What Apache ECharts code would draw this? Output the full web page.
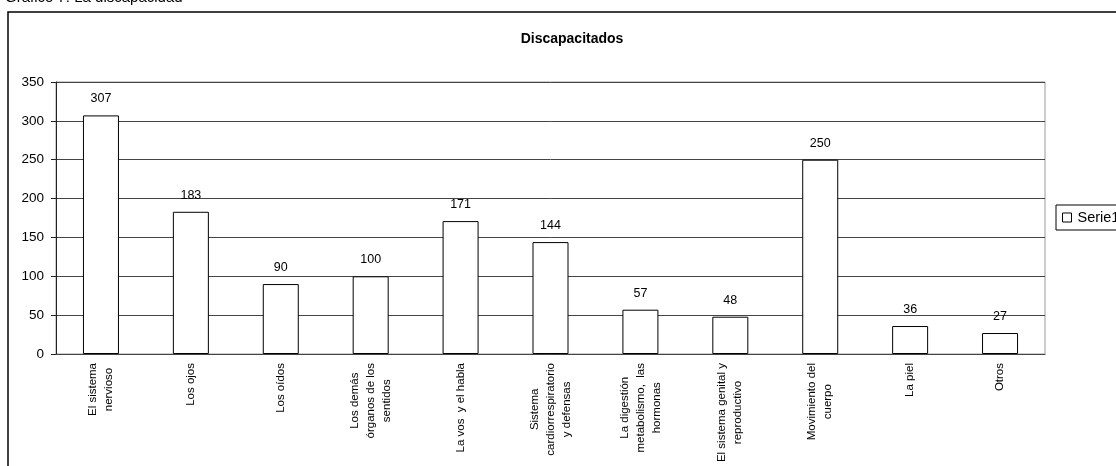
<!DOCTYPE html>
<html>
<head>
<meta charset="utf-8">
<script src="https://cdn.jsdelivr.net/npm/echarts@6/dist/echarts.min.js"></script>
<style>
	body { margin: 0; background: #fff; }
	#discap_chart { width: 1116px; height: 466px; }
</style>
</head>
<body>
<div id="discap_chart"></div>
<script>
// categories (rotated labels, \n = line break)
var categories = [
	'El sistema\nnervioso',
	'Los ojos',
	'Los oídos',
	'Los demás\nórganos de los\nsentidos',
	'La vos  y el habla',
	'Sistema\ncardiorrespiratorio\ny defensas',
	'La digestión\nmetabolismo,  las\nhormonas',
	'El sistema genital y\nreproductivo',
	'Movimiento del\ncuerpo',
	'La piel',
	'Otros'
];
var serie1 = [307, 183, 90, 100, 171, 144, 57, 48, 250, 36, 27];
var yTicks = [0, 50, 100, 150, 200, 250, 300, 350];

var myDiscapChart = echarts.init(document.getElementById('discap_chart'));

showDiscapChart()

function showDiscapChart(){
	var option = getDiscapOption()
	myDiscapChart.setOption(option);
}

function getDiscapOption(){
	var font = 'Arial, "Liberation Sans", sans-serif';
	var option = {
		backgroundColor: '#fff',
		animation: false,
		title: [
			{
				text: 'Gráfico 7: La discapacidad',
				left: 0,
				top: -15,
				textStyle: {
					fontFamily: font,
					fontSize: 15,
					fontWeight: 'normal',
					color: '#000'
				}
			},
			{
				text: 'Discapacitados',
				left: 567,
				top: 27,
				textAlign: 'center',
				textStyle: {
					fontFamily: font,
					fontSize: 14,
					fontWeight: 'bold',
					color: '#000'
				}
			}
		],
		graphic: [
			{
				type: 'rect',
				shape: { x: 8, y: 12, width: 1200, height: 600 },
				style: { fill: 'none', stroke: '#000', lineWidth: 1.5 },
				silent: true
			}
		],
		legend: {
			left: 1056,
			top: 205,
			orient: 'vertical',
			data: ['Serie1'],
			icon: 'rect',
			itemWidth: 9,
			itemHeight: 9,
			itemGap: 0,
			padding: [5, 8, 5, 6],
			borderColor: '#000',
			borderWidth: 1,
			borderRadius: 0,
			itemStyle: { color: '#fff', borderColor: '#000', borderWidth: 1 },
			textStyle: {
				fontFamily: font,
				fontSize: 14.5,
				color: '#000',
				padding: [0, 0, 0, 1]
			}
		},
		grid: {
			left: 56,
			right: 71,
			top: 82,
			bottom: 112,
			show: true,
			borderColor: '#999',
			borderWidth: 1
		},
		xAxis: {
			type: 'category',
			data: categories,
			axisLine: { lineStyle: { color: '#444', width: 1 } },
			axisTick: { alignWithLabel: false, length: 4, lineStyle: { color: '#444' } },
			axisLabel: {
				interval: 0,
				rotate: 90,
				margin: 9,
				fontFamily: font,
				fontSize: 11.5,
				lineHeight: 16,
				color: '#000',
				formatter: function (v) {
					return '{c|' + v + '}';
				},
				rich: {
					c: { align: 'center', fontFamily: font, fontSize: 11.5, lineHeight: 16, color: '#000' }
				}
			}
		},
		yAxis: {
			type: 'value',
			min: yTicks[0],
			max: yTicks[yTicks.length - 1],
			interval: 50,
			axisLine: { show: true, lineStyle: { color: '#222', width: 1 } },
			axisTick: { show: true, length: 5, lineStyle: { color: '#222' } },
			axisLabel: {
				margin: 12,
				fontFamily: font,
				fontSize: 13.5,
				color: '#000'
			},
			splitLine: { lineStyle: { color: '#444', width: 1 } }
		},
		series: [
			{
				name: 'Serie1',
				type: 'bar',
				data: serie1,
				barWidth: 36,
				itemStyle: {
					color: '#fff',
					borderColor: '#000',
					borderWidth: 1
				},
				label: {
					show: true,
					position: 'top',
					distance: 10,
					fontFamily: font,
					fontSize: 12.5,
					color: '#000'
				}
			}
		]
	}
	return option
}
</script>
</body>
</html>
